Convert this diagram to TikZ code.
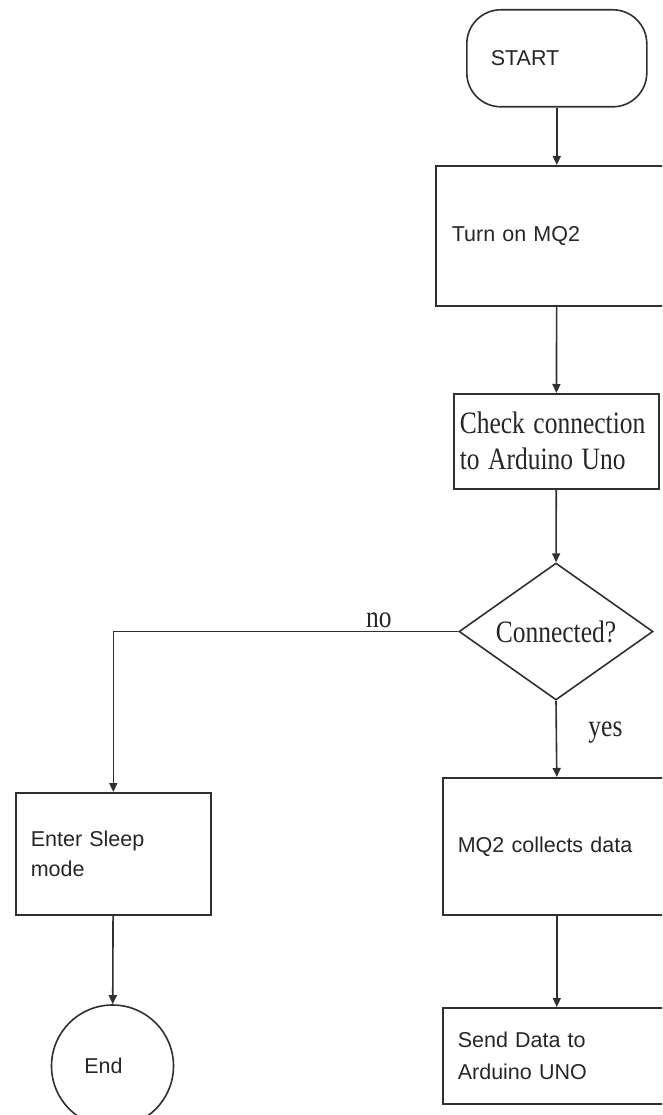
\documentclass[tikz,border=0pt]{standalone}
\usepackage{fontspec}
\newfontfamily\arialfont{Liberation Sans}
\newfontfamily\timesfont{Liberation Serif}
\usepackage{tikz}
\usetikzlibrary{shapes.geometric}
\usetikzlibrary{arrows.meta}
\definecolor{linegray}{HTML}{303030}
\definecolor{textgray}{HTML}{262626}
\newcommand{\tallfont}[1]{\scalebox{1}[1.22]{#1}}
\tikzset{
	flowline/.style={draw=linegray, line width=1.6pt, -{Triangle[length=9pt,width=8pt]}},
	procbox/.style={draw=linegray, line width=1.6pt, rectangle, align=left, anchor=north west, inner xsep=15pt, inner ysep=0pt, text=textgray, font={\arialfont\fontsize{21.5}{30}\selectfont}},
	serifbox/.style={procbox, font={\timesfont\fontsize{25.5}{36}\selectfont}},
	decision/.style={draw=linegray, line width=1.6pt, diamond, aspect=1.416, minimum width=194pt, minimum height=137pt, inner sep=0pt, text=textgray, font={\timesfont\fontsize{25.5}{30}\selectfont}},
	lbl/.style={text=textgray, font={\timesfont\fontsize{25.5}{30}\selectfont}}
}

\begin{document}
\begin{tikzpicture}[x=1pt, y=-1pt]
	\useasboundingbox (0,0) rectangle (662,1115);
	\clip (0,0) rectangle (662,1115);
	\node [procbox, rounded corners=34pt, minimum width=180pt, minimum height=97pt, inner xsep=24pt, text width=132pt] (start) at (466,9) {START};
	\node [procbox, minimum width=242pt, minimum height=140pt, inner xsep=16pt, text width=210pt] (turn) at (435,165) {Turn on MQ2};
	\node [serifbox, minimum width=205pt, minimum height=95pt, inner xsep=6pt, text width=193pt] (check) at (453,393) {\tallfont{Check connection}\\\tallfont{to Arduino Uno}};
	\node [decision] (conn) at (556,631.5) {\tallfont{Connected?}};
	\node [procbox, minimum width=228pt, minimum height=137pt, text width=198pt] (collect) at (442,777) {MQ2 collects data};
	\node [procbox, minimum width=228pt, minimum height=96pt, text width=198pt, font={\arialfont\fontsize{21.5}{32}\selectfont}] (send) at (442,1007) {Send Data to\\Arduino UNO};
	\node [procbox, minimum width=195pt, minimum height=122pt, text width=165pt] (sleep) at (15,792) {Enter Sleep\\mode};
	\node [draw=linegray, line width=1.6pt, circle, minimum size=122pt, text=textgray, font={\arialfont\fontsize{21.5}{30}\selectfont}] (finish) at (112.5,1066) {End\kern18pt};
	\draw [flowline] (start) -- (turn);
	\draw [flowline] (turn) -- (check);
	\draw [flowline] (check) -- (conn);
	\draw [flowline] (conn.west) -| node [lbl, above, pos=0.115] {\tallfont{no}} (sleep.north);
	\draw [flowline] (conn.south) -- node [lbl, right=28pt, pos=0.42] {\tallfont{yes}} (collect.north);
	\draw [flowline] (collect) -- (send);
	\draw [flowline] (sleep) -- (finish);
\end{tikzpicture}
\end{document}
